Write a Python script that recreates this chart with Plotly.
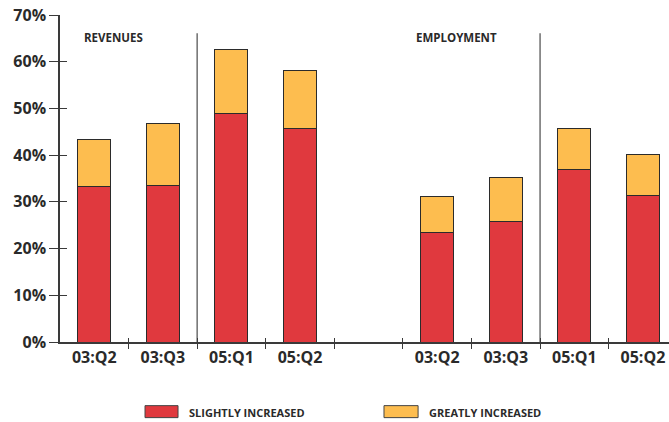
import plotly.graph_objects as go

# ---- data ----
slot_labels = ["03:Q2", "03:Q3", "05:Q1", "05:Q2", "", "03:Q2", "03:Q3", "05:Q1", "05:Q2"]
slot_pos = [0, 1, 2, 3, 4, 5, 6, 7, 8]
bar_pos = [0, 1, 2, 3, 5, 6, 7, 8]
slightly = [33.2, 33.4, 49.0, 45.6, 23.4, 25.8, 37.0, 31.3]
greatly = [10.2, 13.4, 13.7, 12.5, 7.7, 9.4, 8.8, 8.8]
y_ticks = [0, 10, 20, 30, 40, 50, 60, 70]
y_tick_text = ["0%", "10%", "20%", "30%", "40%", "50%", "60%", "70%"]
group_titles = ["REVENUES", "EMPLOYMENT"]
separators = [1.5, 6.5]
series_names = ["SLIGHTLY INCREASED", "GREATLY INCREASED"]

RED = "#E0393E"
ORANGE = "#FDBD4F"
EDGE = "#2b2b2b"
TXT = "#2a2a2a"
FONT = "Open Sans"

fig = go.Figure()
fig.add_trace(go.Bar(x=bar_pos, y=slightly, name=series_names[0], width=0.48,
                     marker=dict(color=RED, line=dict(color=EDGE, width=1)),
                     showlegend=False))
fig.add_trace(go.Bar(x=bar_pos, y=greatly, name=series_names[1], width=0.48,
                     marker=dict(color=ORANGE, line=dict(color=EDGE, width=1)),
                     showlegend=False))
# invisible trace to carry overlay axes
fig.add_trace(go.Scatter(x=[0], y=[0], xaxis="x2", yaxis="y2", mode="markers",
                         marker=dict(opacity=0), showlegend=False, hoverinfo="skip"))

xr = [-0.5, 8.38]
fig.update_layout(
    width=669, height=422,
    margin=dict(l=60, r=0, t=15, b=80),
    paper_bgcolor="white", plot_bgcolor="white",
    barmode="stack",
    font=dict(family=FONT, color=TXT),
    xaxis=dict(range=xr, tickmode="array", tickvals=slot_pos, ticktext=slot_labels,
               ticks="", showgrid=False, zeroline=False,
               showline=True, linecolor="#3a3a3a", linewidth=1.5,
               tickfont=dict(family=FONT, size=16, color=TXT, weight="bold"),
               minor=dict(tickmode="array", tickvals=[0.5, 1.5, 2.5, 3.5, 4.5, 5.5, 6.5, 7.5],
                          ticks="outside", ticklen=5, tickcolor="#3a3a3a", tickwidth=1.2,
                          showgrid=False)),
    xaxis2=dict(range=xr, overlaying="x", anchor="y", side="bottom",
                tickmode="array", tickvals=[0.5, 1.5, 2.5, 3.5, 4.5, 5.5, 6.5, 7.5],
                ticks="inside", ticklen=4, tickcolor="#3a3a3a", tickwidth=1.2,
                showticklabels=False, showgrid=False, zeroline=False, showline=False),
    yaxis=dict(range=[0, 70], tickmode="array", tickvals=y_ticks, ticktext=y_tick_text,
               ticks="outside", ticklen=9, tickcolor="#3a3a3a", tickwidth=1.2,
               showgrid=False, zeroline=False,
               showline=True, linecolor="#3a3a3a", linewidth=1.5,
               tickfont=dict(family=FONT, size=16, color=TXT, weight="bold")),
    yaxis2=dict(range=[0, 70], overlaying="y", anchor="x", side="left",
                tickmode="array", tickvals=y_ticks, ticks="inside", ticklen=7,
                tickcolor="#3a3a3a", tickwidth=1.2,
                showticklabels=False, showgrid=False, zeroline=False, showline=False),
)

# group separators
for s in separators:
    fig.add_shape(type="line", xref="x", yref="y", x0=s, x1=s, y0=0, y1=66.1,
                  line=dict(color="#6e6e6e", width=1.5), layer="below")

# group titles
fig.add_annotation(text=group_titles[0], xref="paper", yref="paper", x=0.036, y=0.93,
                   xanchor="left", yanchor="middle", showarrow=False,
                   font=dict(family=FONT, size=11.5, color=TXT, weight="bold"))
fig.add_annotation(text=group_titles[1], xref="paper", yref="paper", x=0.582, y=0.93,
                   xanchor="left", yanchor="middle", showarrow=False,
                   font=dict(family=FONT, size=11.5, color=TXT, weight="bold"))

# legend drawn manually (wide swatches)
legend_items = [(series_names[0], RED, 0.1396, 0.1938, 0.2085),
                (series_names[1], ORANGE, 0.532, 0.588, 0.6026)]
for name, col, x0, x1, xt in legend_items:
    fig.add_shape(type="rect", xref="paper", yref="paper", x0=x0, x1=x1,
                  y0=-0.2313, y1=-0.1946, fillcolor=col,
                  line=dict(color="#444444", width=1))
    fig.add_annotation(text=name, xref="paper", yref="paper", x=xt, y=-0.2155,
                       xanchor="left", yanchor="middle", showarrow=False,
                       font=dict(family=FONT, size=11, color=TXT, weight="bold"))

fig.write_html("out.html")
